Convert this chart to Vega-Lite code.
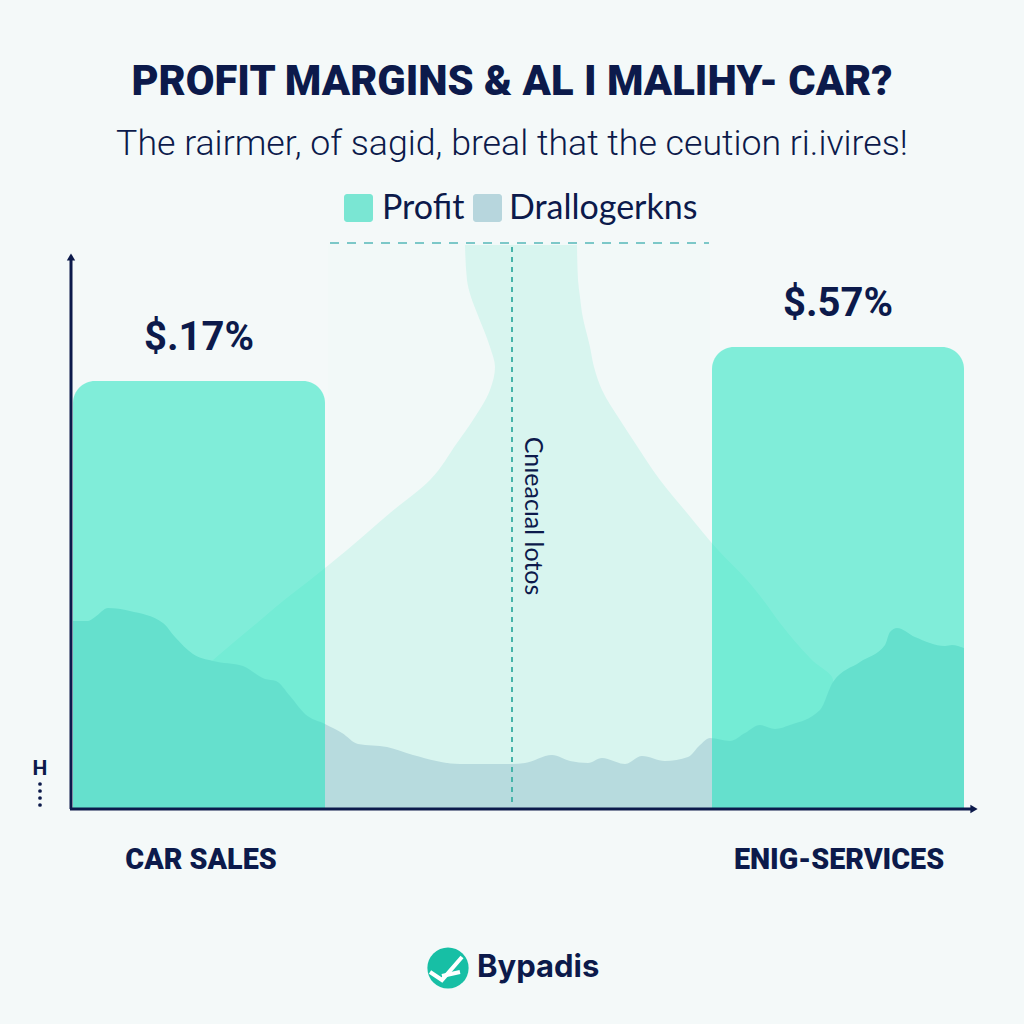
{
"$schema":"https://vega.github.io/schema/vega-lite/v6.json",
"width":1024,"height":1024,"padding":0,
"autosize":{"type":"fit","contains":"padding"},
"background":"#f4f9f9",
"config":{"view":{"stroke":null}},
"encoding":{
 "x":{"field":"x","type":"quantitative","scale":{"domain":[0,1024],"nice":false,"zero":false},"axis":null},
 "y":{"field":"v","type":"quantitative","scale":{"domain":[-215,809],"nice":false,"zero":false},"axis":null}
},
"layer":[
{"data":{"values":[{"x":328,"x2":710,"v":566,"v2":0}]},"mark":{"type":"rect","fill":"#f2f9f8"},"encoding":{"x2":{"field":"x2"},"y2":{"field":"v2"}}},
{"data":{"values":[
{"v":564,"x":465,"x2":577},{"v":529,"x":467,"x2":578},{"v":512,"x":471,"x2":580},{"v":496,"x":477,"x2":582},{"v":462,"x":490,"x2":590},{"v":442,"x":495,"x2":594},{"v":419,"x":490,"x2":602},{"v":389,"x":473,"x2":620},{"v":366,"x":457,"x2":635},{"v":329,"x":430,"x2":660},{"v":296,"x":390,"x2":687},{"v":259,"x":347,"x2":718},{"v":229,"x":310,"x2":747},{"v":208,"x":283,"x2":764},{"v":186,"x":257,"x2":780},{"v":149,"x":213,"x2":812},{"v":129,"x":190,"x2":833},{"v":0,"x":190,"x2":833}]},
 "mark":{"type":"area","orient":"horizontal","interpolate":"monotone","fill":"#d8f5ef"},
 "encoding":{"x2":{"field":"x2"}}},
{"data":{"values":[
{"x":73,"v":188},{"x":88,"v":188},{"x":95,"v":192},{"x":108,"v":201},{"x":130,"v":198},{"x":163,"v":186},{"x":175,"v":172},{"x":193,"v":155},{"x":213,"v":148},{"x":243,"v":143},{"x":265,"v":130},{"x":276,"v":128},{"x":290,"v":113},{"x":305,"v":95},{"x":325,"v":85},{"x":342,"v":76},{"x":358,"v":65},{"x":387,"v":62},{"x":413,"v":54},{"x":460,"v":45},{"x":512,"v":45},{"x":525,"v":46},{"x":552,"v":54},{"x":570,"v":48},{"x":588,"v":46},{"x":602,"v":51},{"x":625,"v":45},{"x":642,"v":53},{"x":665,"v":48},{"x":688,"v":52},{"x":700,"v":64},{"x":710,"v":71},{"x":730,"v":68},{"x":745,"v":76},{"x":760,"v":84},{"x":775,"v":80},{"x":790,"v":84},{"x":820,"v":99},{"x":833,"v":127},{"x":860,"v":147},{"x":885,"v":164},{"x":890,"v":177},{"x":897,"v":181},{"x":915,"v":172},{"x":945,"v":163},{"x":952,"v":164},{"x":964,"v":161}]},
 "mark":{"type":"area","interpolate":"monotone","fill":"#b7dbde"},
 "encoding":{"y2":{"datum":0}}},
{"data":{"values":[{"x":73,"x2":325,"v":428,"v2":0,"category":"CAR SALES"},{"x":712,"x2":964,"v":462,"v2":0,"category":"ENIG-SERVICES"}]},
 "mark":{"type":"rect","fill":"#26e4c1","opacity":0.56,"cornerRadiusTopLeft":22,"cornerRadiusTopRight":22},
 "encoding":{"x2":{"field":"x2"},"y2":{"field":"v2"}}},
{"data":{"values":[{"x":330,"x2":709,"v":566}]},"mark":{"type":"rule","stroke":"#7cc8c8","strokeWidth":2,"strokeDash":[9,8]},"encoding":{"x2":{"field":"x2"}}},
{"data":{"values":[{"x":512,"v":562,"v2":6}]},"mark":{"type":"rule","stroke":"#46b3a9","strokeWidth":2,"strokeDash":[5,5]},"encoding":{"y2":{"field":"v2"}}},
{"data":{"values":[{"x":71,"v":0,"v2":550}]},"mark":{"type":"rule","stroke":"#0c1a4b","strokeWidth":3},"encoding":{"y2":{"field":"v2"}}},
{"data":{"values":[{"x":70,"x2":972,"v":0}]},"mark":{"type":"rule","stroke":"#0c1a4b","strokeWidth":3},"encoding":{"x2":{"field":"x2"}}},
{"data":{"values":[{"x":71,"v":552}]},"mark":{"type":"point","shape":"triangle-up","filled":true,"size":70,"color":"#0c1a4b","opacity":1}},
{"data":{"values":[{"x":974,"v":0}]},"mark":{"type":"point","shape":"triangle-right","filled":true,"size":70,"color":"#0c1a4b","opacity":1}},
{"data":{"values":[{"x":344,"x2":373,"v":615,"v2":587,"s":"Profit"}]},"mark":{"type":"rect","fill":"#7ae6d3","cornerRadius":3},"encoding":{"x2":{"field":"x2"},"y2":{"field":"v2"}}},
{"data":{"values":[{"x":473,"x2":502,"v":615,"v2":587,"s":"Drallogerkns"}]},"mark":{"type":"rect","fill":"#b7d6dd","cornerRadius":3},"encoding":{"x2":{"field":"x2"},"y2":{"field":"v2"}}},
{"data":{"values":[{"x":512,"v":727,"t":"PROFIT MARGINS & AL I MALIHY- CAR?"}]},"mark":{"type":"text","font":"Roboto","fontWeight":900,"fontSize":41.7,"color":"#0c1a4b","align":"center","baseline":"middle"},"encoding":{"text":{"field":"t"}}},
{"data":{"values":[{"x":512,"v":665,"t":"The rairmer, of sagid, breal that the ceution ri.ivires!"}]},"mark":{"type":"text","font":"Roboto","fontWeight":300,"fontSize":35.7,"color":"#0c1a4b","align":"center","baseline":"middle"},"encoding":{"text":{"field":"t"}}},
{"data":{"values":[{"x":382,"v":600,"t":"Profit"},{"x":509,"v":600,"t":"Drallogerkns"}]},"mark":{"type":"text","font":"Lato","fontSize":34,"color":"#0c1a4b","align":"left","baseline":"middle"},"encoding":{"text":{"field":"t"}}},
{"data":{"values":[{"x":199,"v":471,"t":"$.17%"},{"x":838,"v":505,"t":"$.57%"}]},"mark":{"type":"text","font":"Roboto","fontWeight":"bold","fontSize":40,"color":"#0c1a4b","align":"center","baseline":"middle"},"encoding":{"text":{"field":"t"}}},
{"data":{"values":[{"x":201,"v":-51,"t":"CAR SALES"},{"x":839,"v":-51,"t":"ENIG-SERVICES"}]},"mark":{"type":"text","font":"Roboto","fontWeight":900,"fontSize":28.7,"color":"#0c1a4b","align":"center","baseline":"middle"},"encoding":{"text":{"field":"t"}}},
{"data":{"values":[{"x":533,"v":293,"t":"Cnıeacıal lotos"}]},"mark":{"type":"text","font":"Lato","fontSize":25,"angle":90,"color":"#0c1a4b","align":"center","baseline":"middle"},"encoding":{"text":{"field":"t"}}},
{"data":{"values":[{"x":40,"v":40,"t":"H"}]},"mark":{"type":"text","font":"Roboto","fontWeight":"bold","fontSize":21,"color":"#0c1a4b","align":"center","baseline":"middle"},"encoding":{"text":{"field":"t"}}},
{"data":{"values":[{"x":40,"v":25},{"x":40,"v":18},{"x":40,"v":11},{"x":40,"v":4}]},"mark":{"type":"point","shape":"circle","filled":true,"size":14,"color":"#0c1a4b","opacity":1}},
{"data":{"values":[{"x":448,"v":-159}]},"mark":{"type":"point","shape":"circle","filled":true,"size":1700,"color":"#17bfa5","opacity":1}},
{"data":{"values":[{"x":430,"v":-163,"p":"a"},{"x":442,"v":-171,"p":"a"},{"x":462,"v":-148,"p":"a"},{"x":442,"v":-167,"p":"b"},{"x":460,"v":-163,"p":"b"}]},"mark":{"type":"line","stroke":"#ffffff","strokeWidth":4},"encoding":{"detail":{"field":"p"}}},
{"data":{"values":[{"x":477,"v":-159,"t":"Bypadis"}]},"mark":{"type":"text","font":"Inter","fontWeight":"bold","fontSize":31,"color":"#0c1a4b","align":"left","baseline":"middle"},"encoding":{"text":{"field":"t"}}}
]
}
